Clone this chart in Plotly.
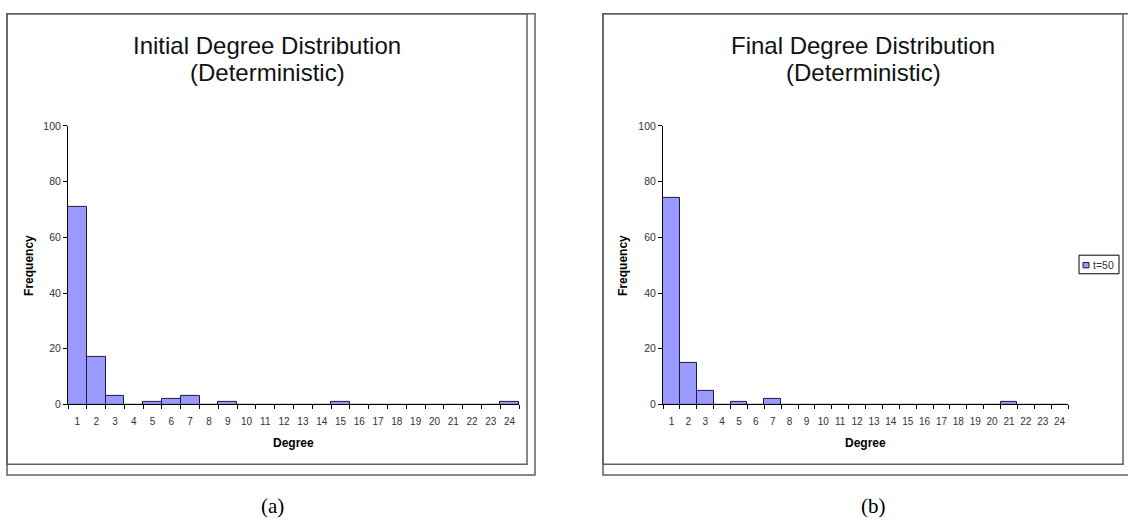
import plotly.graph_objects as go

# ---- data ----
degrees = [str(d) for d in range(1, 25)]
initial_freq = [71, 17, 3, 0, 1, 2, 3, 0, 1, 0, 0, 0, 0, 0, 1, 0, 0, 0, 0, 0, 0, 0, 0, 1]
final_freq = [74, 15, 5, 0, 1, 0, 2, 0, 0, 0, 0, 0, 0, 0, 0, 0, 0, 0, 0, 0, 1, 0, 0, 0]
y_ticks = [0, 20, 40, 60, 80, 100]
titles_a = ["Initial Degree Distribution", "(Deterministic)"]
titles_b = ["Final Degree Distribution", "(Deterministic)"]
legend_label = "t=50"

W, H = 1128, 527
def px(x):
    return x / W
def py(y):
    return 1 - y / H

BAR_FILL = "#9999ff"
BAR_LINE = "#1a1a3a"
TXT = "#333333"
FRAME = "#606060"

fig = go.Figure()
fig.add_trace(go.Bar(x=degrees, y=initial_freq, marker=dict(color=BAR_FILL, line=dict(color=BAR_LINE, width=1)),
                     xaxis="x", yaxis="y", showlegend=False))
fig.add_trace(go.Bar(x=degrees, y=final_freq, marker=dict(color=BAR_FILL, line=dict(color=BAR_LINE, width=1)),
                     xaxis="x2", yaxis="y2", showlegend=False))

xcommon = dict(type="category", categoryorder="array", categoryarray=degrees, tickson="boundaries",
               ticks="outside", ticklen=4, tickcolor="black", showline=True, linecolor="black", linewidth=1,
               showgrid=False, tickangle=0, ticklabelstandoff=8,
               tickfont=dict(family="Liberation Sans, Arial", size=10, color=TXT),
               range=[-0.5, 23.5], fixedrange=True)
ycommon = dict(range=[0, 100], tickvals=y_ticks, ticks="outside", ticklen=4, tickcolor="black",
               showline=True, linecolor="black", linewidth=1, showgrid=False, zeroline=False,
               tickfont=dict(family="Liberation Sans, Arial", size=10.5, color=TXT), fixedrange=True)

fig.update_layout(
    width=W, height=H, margin=dict(l=0, r=0, t=0, b=0),
    paper_bgcolor="white", plot_bgcolor="rgba(0,0,0,0)",
    bargap=0, showlegend=False,
    xaxis=dict(domain=[px(68), px(519)], anchor="y", **xcommon),
    yaxis=dict(domain=[py(407.7), py(122.7)], anchor="x", **ycommon),
    xaxis2=dict(domain=[px(663), px(1068)], anchor="y2", **xcommon),
    yaxis2=dict(domain=[py(407.7), py(122.7)], anchor="x2", **ycommon),
)

shapes = []
# panel frames
for (x0, x1, xo) in [(7, 527, 535), (603, 1123, 1140)]:
    shapes.append(dict(type="rect", xref="paper", yref="paper", x0=px(x0), x1=px(xo), y0=py(480), y1=py(8),
                       line=dict(color=FRAME, width=1.5)))
    shapes.append(dict(type="rect", xref="paper", yref="paper", x0=px(x0), x1=px(x1), y0=py(469), y1=py(8),
                       line=dict(color=FRAME, width=1.5)))
# legend box and swatch
shapes.append(dict(type="rect", xref="paper", yref="paper", x0=px(1079), x1=px(1119), y0=py(274), y1=py(255),
                   line=dict(color="black", width=1), fillcolor="white"))
shapes.append(dict(type="rect", xref="paper", yref="paper", x0=px(1083), x1=px(1089), y0=py(268), y1=py(262.5),
                   line=dict(color=BAR_LINE, width=1), fillcolor=BAR_FILL))
fig.update_layout(shapes=shapes)

ann = []
def text(x, y, s, size, **kw):
    font = kw.pop("font", dict(family="Liberation Sans, Arial", size=size, color=kw.pop("color", "black")))
    kw.setdefault("xanchor", "center")
    kw.setdefault("yanchor", "middle")
    ann.append(dict(x=px(x), y=py(y), xref="paper", yref="paper", text=s, showarrow=False, font=font, **kw))

for cx, lines in [(267, titles_a), (863, titles_b)]:
    text(cx, 40, lines[0], 24, color="#111111")
    text(cx, 68, lines[1], 24, color="#111111")

text(29, 266, "<b>Frequency</b>", 12, textangle=-90)
text(623, 266, "<b>Frequency</b>", 12, textangle=-90)
text(293.5, 447, "<b>Degree</b>", 12)
text(865.5, 447, "<b>Degree</b>", 12)
text(1091, 265, legend_label, 10.5, xanchor="left", color=TXT)
text(272, 512, "(a)", 21, font=dict(family="Liberation Serif, Times New Roman", size=21, color="black"))
text(873, 512, "(b)", 21, font=dict(family="Liberation Serif, Times New Roman", size=21, color="black"))
fig.update_layout(annotations=ann)

fig.write_html("out.html", config={"displayModeBar": False},
               post_script="document.documentElement.style.overflow='hidden';document.body.style.margin='0';document.body.style.overflow='hidden';")
